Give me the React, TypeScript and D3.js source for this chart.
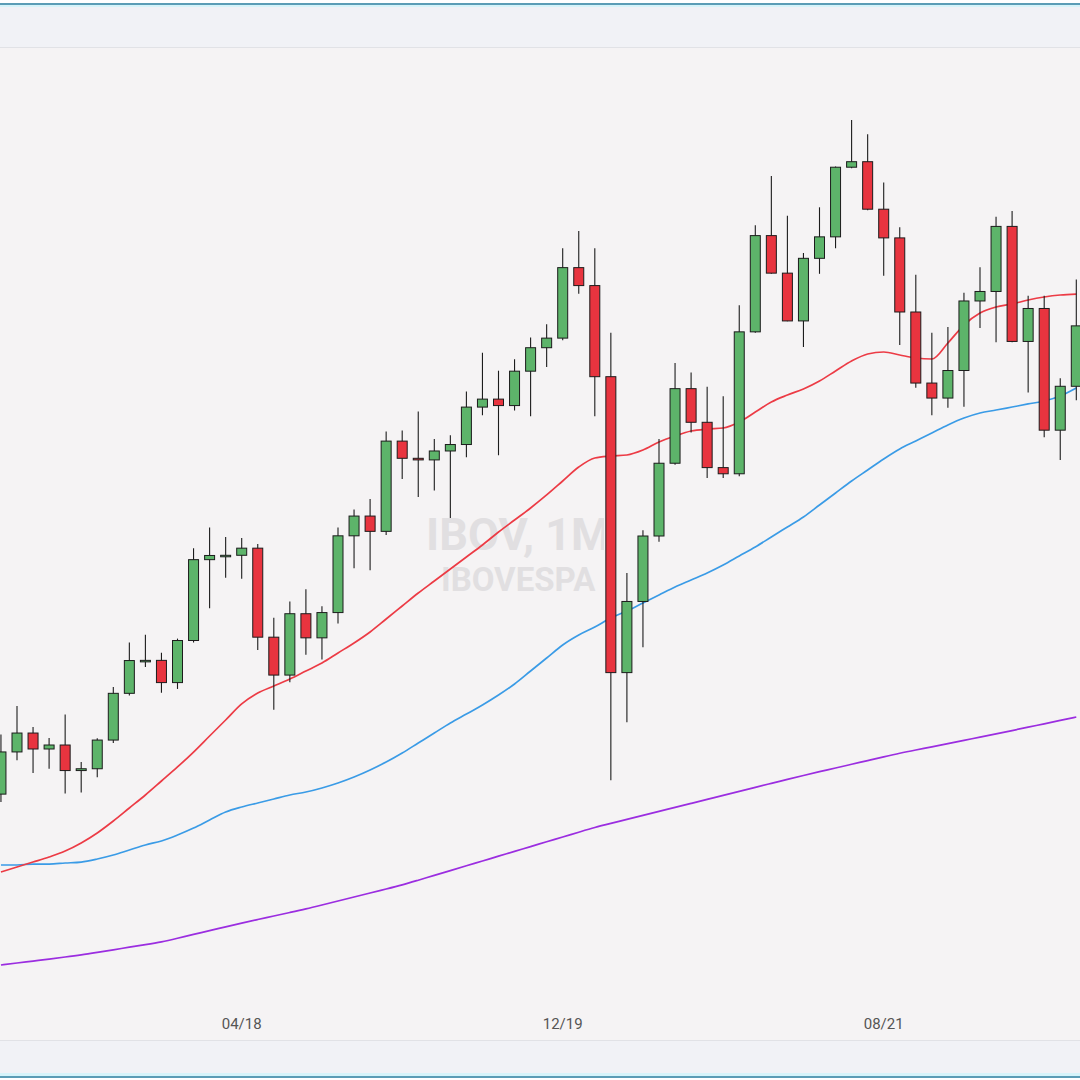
import React from 'react';
import * as d3 from 'd3';

const months = [
  '01/17','02/17','03/17','04/17','05/17','06/17','07/17','08/17','09/17','10/17','11/17','12/17',
  '01/18','02/18','03/18','04/18','05/18','06/18','07/18','08/18','09/18','10/18','11/18','12/18',
  '01/19','02/19','03/19','04/19','05/19','06/19','07/19','08/19','09/19','10/19','11/19','12/19',
  '01/20','02/20','03/20','04/20','05/20','06/20','07/20','08/20','09/20','10/20','11/20','12/20',
  '01/21','02/21','03/21','04/21','05/21','06/21','07/21','08/21','09/21','10/21','11/21','12/21',
  '01/22','02/22','03/22','04/22','05/22','06/22','07/22','08/22'
];

const opens = [
  60230,64670,66660,64980,65400,62710,62900,65920,70840,74290,74310,71970,
  76400,84910,85350,85370,86120,76750,72760,79220,76680,79340,87420,89500,
  87890,97390,95580,95410,96350,97030,100970,101810,101130,104750,107220,108230,
  115650,113760,104170,73020,80510,87400,95060,102910,99370,94600,93950,108890,
  119020,115070,110040,116630,118890,126220,126800,121800,118780,110980,103500,101920,
  104820,112140,113140,119990,107880,111350,98540,103160
];
const highs = [
  66500,69500,67300,66140,68600,63600,66100,71500,76200,77000,75100,76600,
  86100,88300,87300,87200,86550,78800,80500,81800,80000,88300,90200,91300,
  98400,98500,100500,97600,98000,102600,106700,104800,106000,108300,109700,117700,
  119500,117700,108800,83500,88000,97600,105600,104600,103100,102100,111700,120100,
  125300,121100,117200,122000,126300,131200,129700,124600,119900,114900,108800,109400,
  113000,115700,121000,121600,112700,112700,104000,114400
];
const lows = [
  59400,63800,62450,62900,60300,60400,62000,65600,70600,73600,70900,71300,
  76200,79800,83000,82900,75400,69100,72000,74900,74400,78200,84000,83800,
  87500,93400,91500,92200,89300,95700,100100,95900,100600,100000,105200,108000,
  112900,100000,61700,67800,75700,86800,94900,98300,93500,93500,93700,108800,
  115000,110000,107300,115000,117700,126100,121700,114800,107500,103000,100100,100900,
  101000,109300,107800,107800,102500,97800,95400,101700
];
const closes = [
  64670,66660,64980,65400,62710,62900,65920,70840,74290,74310,71970,76400,
  84910,85350,85370,86120,76750,72760,79220,76680,79340,87420,89500,87890,
  97390,95580,95410,96350,97030,100970,101810,101130,104750,107220,108230,115650,
  113760,104170,73020,80510,87400,95060,102910,99370,94600,93950,108890,119020,
  115070,110040,116630,118890,126220,126800,121800,118780,110980,103500,101920,104820,
  112140,113140,119990,107880,111350,98540,103160,109520
];

const maFast = [
  52030,52560,53080,53610,54240,55090,56140,57400,58770,60140,61610,63090,
  64660,66350,68030,69720,70870,71610,72350,73190,74030,75090,76140,77300,
  78660,80030,81400,82660,83930,85190,86450,87820,89080,90350,91720,93190,
  94660,95610,95820,95930,96450,97300,97930,98450,98660,98770,99400,100450,
  101510,102240,102880,103720,104770,105820,106560,106770,106450,106140,106030,107720,
  109610,110880,111510,111820,112240,112560,112770,112870
];
const maMid = [
  52770,52770,52870,52870,52980,53080,53400,53820,54350,54880,55300,55930,
  56660,57510,58350,58880,59300,59720,60140,60450,60880,61400,62030,62770,
  63610,64560,65610,66660,67720,68660,69610,70660,71820,73190,74560,75930,
  76980,77820,78770,79510,80350,81190,82030,82770,83510,84350,85300,86240,
  87300,88350,89400,90660,91930,93190,94350,95510,96560,97400,98240,99090,
  99820,100350,100660,100980,101300,101610,102140,102980
];
const maSlow = [
  42240,42450,42660,42870,43080,43300,43570,43840,44120,44390,44660,45060,
  45460,45860,46260,46660,47030,47400,47770,48140,48560,48980,49400,49820,
  50240,50660,51170,51670,52180,52690,53190,53700,54200,54710,55210,55720,
  56220,56730,57150,57570,57990,58410,58830,59250,59670,60100,60520,60940,
  61360,61780,62200,62590,62980,63370,63760,64150,64540,64880,65210,65550,
  65890,66220,66560,66920,67280,67630,67990,68350
];

const tickLabels = ['04/18', '12/19', '08/21'];

const W = 1080;
const H = 1080;
const STEP = 16.05;
const FIRST_CENTER = 0.95;
const PLOT_TOP = 48;
const PLOT_BOTTOM = 1040;

export default function App() {
  const x = d3
    .scaleBand<string>()
    .domain(months)
    .range([FIRST_CENTER - STEP / 2, FIRST_CENTER - STEP / 2 + STEP * months.length])
    .paddingInner(0)
    .paddingOuter(0);
  const bw = x.bandwidth();
  const body = 10;
  const y = d3
    .scaleLinear()
    .domain([40000, 140000])
    .range([120 + (131190 - 40000) * 0.0095, 120 + (131190 - 140000) * 0.0095]);

  const cx = (m: string) => (x(m) as number) + bw / 2;

  const lineGen = (vals: number[], curve: d3.CurveFactory) =>
    d3
      .line<number>()
      .x((_, i) => cx(months[i]))
      .y((v) => y(v))
      .curve(curve)(vals) as string;

  const green = '#5db46a';
  const red = '#e8343f';
  const edge = '#1c1c1c';

  return (
    <svg
      width={W}
      height={H}
      viewBox={`0 0 ${W} ${H}`}
      style={{ position: 'absolute', left: 0, top: 0, display: 'block' }}
    >
      <defs>
        <clipPath id="plotClip">
          <rect x={0} y={PLOT_TOP} width={W} height={PLOT_BOTTOM - PLOT_TOP} />
        </clipPath>
        <clipPath id="wmClip">
          <rect x={0} y={PLOT_TOP} width={604} height={PLOT_BOTTOM - PLOT_TOP} />
        </clipPath>
      </defs>
      <rect x={0} y={0} width={W} height={H} fill="#f1f2f6" />
      <rect x={0} y={0} width={W} height={3} fill="#ffffff" />
      <rect x={0} y={3} width={W} height={2} fill="#5b9db6" />
      <rect x={0} y={5} width={W} height={2} fill="#d6f4fa" />
      <rect x={0} y={PLOT_TOP} width={W} height={PLOT_BOTTOM - PLOT_TOP} fill="#f5f3f4" />
      <line x1={0} x2={W} y1={PLOT_TOP - 0.5} y2={PLOT_TOP - 0.5} stroke="#e1e2e6" strokeWidth={1} />
      <line x1={0} x2={W} y1={PLOT_BOTTOM + 0.5} y2={PLOT_BOTTOM + 0.5} stroke="#e1e2e6" strokeWidth={1} />
      <rect x={0} y={1073} width={W} height={3} fill="#d6f4fa" />
      <rect x={0} y={1076} width={W} height={2} fill="#5b9db6" />
      <rect x={0} y={1078} width={W} height={2} fill="#ffffff" />

      <g clipPath="url(#wmClip)" fill="#e1dfe1" fontFamily="Roboto, 'Noto Sans', sans-serif" fontWeight={700}>
        <text x={426} y={550} fontSize={45}>IBOV, 1M</text>
        <text x={441} y={591} fontSize={33}>IBOVESPA</text>
      </g>

      <g clipPath="url(#plotClip)">
        <path d={lineGen(maSlow, d3.curveBasis)} fill="none" stroke="#9b2de0" strokeWidth={1.7} />
        <path d={lineGen(maMid, d3.curveMonotoneX)} fill="none" stroke="#3a9be6" strokeWidth={1.7} />
        <path d={lineGen(maFast, d3.curveMonotoneX)} fill="none" stroke="#ec3b45" strokeWidth={1.7} />
        {months.map((m, i) => {
          const o = opens[i];
          const c = closes[i];
          const up = c >= o;
          const top = y(Math.max(o, c));
          const bot = y(Math.min(o, c));
          const xc = cx(m);
          return (
            <g key={m}>
              <line x1={xc} x2={xc} y1={y(highs[i])} y2={y(lows[i])} stroke={edge} strokeWidth={1.1} />
              <rect
                x={xc - body / 2}
                y={top}
                width={body}
                height={Math.max(1.5, bot - top)}
                fill={up ? green : red}
                stroke={edge}
                strokeWidth={1}
              />
            </g>
          );
        })}
      </g>

      <g fill="#555" fontFamily="'Liberation Sans Narrow', 'Roboto', sans-serif" fontSize={15} textAnchor="middle">
        {tickLabels.map((t) => (
          <text key={t} x={cx(t)} y={1029}>{t}</text>
        ))}
      </g>
    </svg>
  );
}
